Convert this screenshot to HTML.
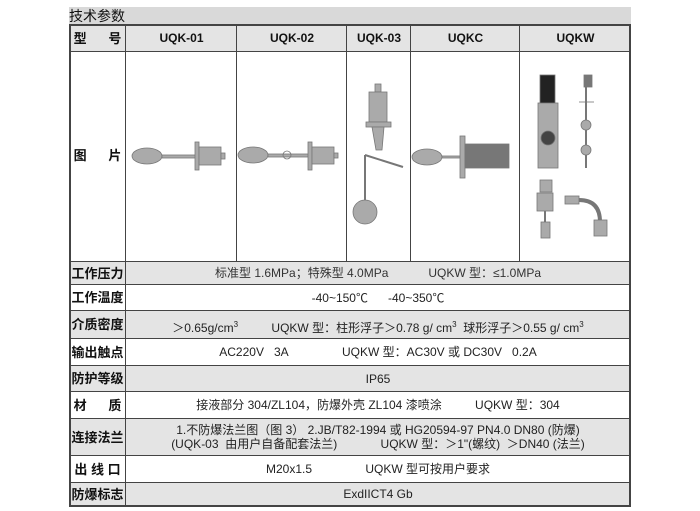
<!DOCTYPE html>
<html><head><meta charset="utf-8"><style>
body{margin:0;width:700px;height:511px;background:#fff;position:relative;overflow:hidden;font-family:"Liberation Sans","Noto Sans CJK SC",sans-serif;color:#111}
.a{position:absolute}
.title{left:69px;top:7px;width:562px;height:18px;background:#d9d9d9;font-size:14px;line-height:18px}
.r{position:absolute;left:69px;width:561px;box-sizing:border-box}
.g{background:#e4e4e4}
.l{position:absolute;left:0;width:57px;font-weight:bold;font-size:13px;text-align:center}
.c{position:absolute;left:57px;right:0;text-align:center;font-size:12px;color:#222}
.hl{position:absolute;background:#444;height:2px;left:69px;width:562px}
.vl{position:absolute;background:#444;width:2px}
sup{font-size:8px}
</style></head><body>
<div class="a title">技术参数</div>
<div class="r g" style="top:25px;height:27px"></div>
<div class="r g" style="top:262px;height:23px"></div>
<div class="r g" style="top:311px;height:28px"></div>
<div class="r g" style="top:366px;height:26px"></div>
<div class="r g" style="top:419px;height:37px"></div>
<div class="r g" style="top:483px;height:23px"></div>
<div class="a" style="top:25px;left:69px;width:57px;height:27px;line-height:27px;font-weight:bold;font-size:13px;text-align:center">型&nbsp;&nbsp;&nbsp;&nbsp;&nbsp;&nbsp;号</div>
<div class="a" style="top:25px;left:126px;width:111px;line-height:27px;font-weight:bold;font-size:12px;text-align:center">UQK-01</div>
<div class="a" style="top:25px;left:237px;width:110px;line-height:27px;font-weight:bold;font-size:12px;text-align:center">UQK-02</div>
<div class="a" style="top:25px;left:347px;width:64px;line-height:27px;font-weight:bold;font-size:12px;text-align:center">UQK-03</div>
<div class="a" style="top:25px;left:411px;width:109px;line-height:27px;font-weight:bold;font-size:12px;text-align:center">UQKC</div>
<div class="a" style="top:25px;left:520px;width:111px;line-height:27px;font-weight:bold;font-size:12px;text-align:center">UQKW</div>
<div class="a" style="top:145px;left:69px;width:57px;font-weight:bold;font-size:13px;text-align:center">图&nbsp;&nbsp;&nbsp;&nbsp;&nbsp;&nbsp;片</div>
<div class="r" style="top:262px;height:23px;line-height:23px"><div class="l">工作压力</div><div class="c" style="color:#333">标准型 1.6MPa；特殊型 4.0MPa&nbsp;&nbsp;&nbsp;&nbsp;&nbsp;&nbsp;&nbsp;&nbsp;&nbsp;&nbsp;&nbsp;&nbsp;UQKW 型：≤1.0MPa</div></div>
<div class="r" style="top:285px;height:26px;line-height:26px"><div class="l">工作温度</div><div class="c">-40~150℃&nbsp;&nbsp;&nbsp;&nbsp;&nbsp;&nbsp;-40~350℃</div></div>
<div class="r" style="top:311px;height:28px;line-height:28px"><div class="l">介质密度</div><div class="c">＞0.65g/cm<sup>3</sup>&nbsp;&nbsp;&nbsp;&nbsp;&nbsp;&nbsp;&nbsp;&nbsp;&nbsp;&nbsp;UQKW 型：柱形浮子＞0.78 g/ cm<sup>3</sup>&nbsp;&nbsp;球形浮子＞0.55 g/ cm<sup>3</sup></div></div>
<div class="r" style="top:339px;height:27px;line-height:27px"><div class="l">输出触点</div><div class="c">AC220V&nbsp;&nbsp;&nbsp;3A&nbsp;&nbsp;&nbsp;&nbsp;&nbsp;&nbsp;&nbsp;&nbsp;&nbsp;&nbsp;&nbsp;&nbsp;&nbsp;&nbsp;&nbsp;&nbsp;UQKW 型：AC30V 或 DC30V&nbsp;&nbsp;&nbsp;0.2A</div></div>
<div class="r" style="top:366px;height:26px;line-height:26px"><div class="l">防护等级</div><div class="c">IP65</div></div>
<div class="r" style="top:392px;height:27px;line-height:27px"><div class="l">材&nbsp;&nbsp;&nbsp;&nbsp;&nbsp;&nbsp;质</div><div class="c">接液部分 304/ZL104，防爆外壳 ZL104 漆喷涂&nbsp;&nbsp;&nbsp;&nbsp;&nbsp;&nbsp;&nbsp;&nbsp;&nbsp;&nbsp;UQKW 型：304</div></div>
<div class="r" style="top:419px;height:37px;line-height:37px"><div class="l">连接法兰</div><div class="c" style="line-height:14px;top:4px">1.不防爆法兰图（图 3）&nbsp;2.JB/T82-1994 或 HG20594-97 PN4.0 DN80 (防爆)<br>(UQK-03&nbsp;&nbsp;由用户自备配套法兰)&nbsp;&nbsp;&nbsp;&nbsp;&nbsp;&nbsp;&nbsp;&nbsp;&nbsp;&nbsp;&nbsp;&nbsp;&nbsp;UQKW 型：＞1"(螺纹)&nbsp;&nbsp;＞DN40 (法兰)</div></div>
<div class="r" style="top:456px;height:27px;line-height:27px"><div class="l">出 线 口</div><div class="c">M20x1.5&nbsp;&nbsp;&nbsp;&nbsp;&nbsp;&nbsp;&nbsp;&nbsp;&nbsp;&nbsp;&nbsp;&nbsp;&nbsp;&nbsp;&nbsp;&nbsp;UQKW 型可按用户要求</div></div>
<div class="r" style="top:483px;height:23px;line-height:23px"><div class="l">防爆标志</div><div class="c">ExdIICT4 Gb</div></div>
<div class="hl" style="top:24px"></div>
<div class="hl" style="top:51px;height:1px"></div>
<div class="hl" style="top:261px;height:1px"></div>
<div class="hl" style="top:284px;height:1px"></div>
<div class="hl" style="top:310px;height:1px"></div>
<div class="hl" style="top:338px;height:1px"></div>
<div class="hl" style="top:365px;height:1px"></div>
<div class="hl" style="top:391px;height:1px"></div>
<div class="hl" style="top:418px;height:1px"></div>
<div class="hl" style="top:455px;height:1px"></div>
<div class="hl" style="top:482px;height:1px"></div>
<div class="hl" style="top:505px"></div>
<div class="vl" style="left:69px;top:24px;height:483px"></div>
<div class="vl" style="left:125px;top:24px;height:483px;width:1px"></div>
<div class="vl" style="left:629px;top:24px;height:483px"></div>
<div class="vl" style="left:236px;top:24px;height:238px;width:1px"></div>
<div class="vl" style="left:346px;top:24px;height:238px;width:1px"></div>
<div class="vl" style="left:410px;top:24px;height:238px;width:1px"></div>
<div class="vl" style="left:519px;top:24px;height:238px;width:1px"></div>
<svg class="a" style="left:0;top:0" width="700" height="511">
<g fill="#aaa" stroke="#777" stroke-width="0.8">
<ellipse cx="147" cy="156" rx="15" ry="8"/><rect x="162" y="155" width="35" height="3"/><rect x="195" y="142" width="4" height="28"/><rect x="199" y="147" width="22" height="18"/><rect x="221" y="153" width="4" height="6"/>
<ellipse cx="253" cy="155" rx="15" ry="8"/><rect x="268" y="154" width="42" height="3"/><circle cx="287" cy="155" r="4" fill="none"/><rect x="308" y="142" width="4" height="28"/><rect x="312" y="147" width="22" height="17"/><rect x="334" y="153" width="4" height="5"/>
<rect x="375" y="84" width="6" height="8"/><rect x="369" y="92" width="18" height="30"/><rect x="366" y="122" width="25" height="5"/><polygon points="372,127 384,127 382,150 376,150"/><line x1="365" y1="155" x2="403" y2="167" stroke-width="2"/><line x1="365" y1="155" x2="365" y2="202" stroke-width="2"/><circle cx="365" cy="212" r="12"/>
<ellipse cx="427" cy="157" rx="15" ry="8"/><rect x="442" y="156" width="20" height="2"/><rect x="460" y="136" width="5" height="42"/><rect x="465" y="144" width="44" height="24" fill="#777"/>
<rect x="540" y="75" width="15" height="30" fill="#222"/><rect x="538" y="103" width="20" height="65"/><circle cx="548" cy="138" r="7" fill="#444"/>
<rect x="584" y="75" width="8" height="12" fill="#777"/><line x1="586" y1="85" x2="586" y2="168" stroke-width="2"/><circle cx="586" cy="125" r="5"/><circle cx="586" cy="150" r="5"/><line x1="579" y1="102" x2="594" y2="102"/>
<rect x="540" y="180" width="12" height="12"/><rect x="537" y="193" width="16" height="18"/><line x1="545" y1="211" x2="545" y2="225" stroke-width="2"/><rect x="541" y="222" width="9" height="16"/>
<rect x="565" y="196" width="14" height="8"/><path d="M579 200 Q600 200 600 222" fill="none" stroke-width="4"/><rect x="594" y="220" width="13" height="16"/>
</g></svg>
</body></html>
